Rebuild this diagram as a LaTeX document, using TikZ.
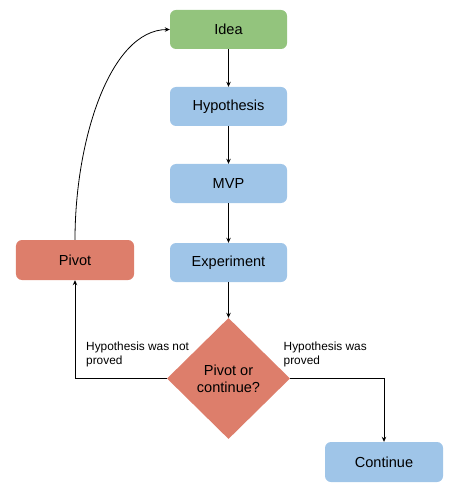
\documentclass[tikz,border=0pt]{standalone}
\usepackage{fontspec}
\setmainfont{Liberation Sans}
\usetikzlibrary{shapes.geometric,arrows.meta}
\definecolor{cgreen}{HTML}{93C47D}
\definecolor{cblue}{HTML}{9FC5E8}
\definecolor{cred}{HTML}{DD7E6B}
\begin{document}
\begin{tikzpicture}[x=1bp,y=-1bp,
  box/.style={rectangle,rounded corners=6bp,minimum width=117bp,minimum height=39bp,inner sep=0pt,font=\fontsize{14.6}{17}\selectfont},
  decision/.style={diamond,fill=cred,minimum width=123bp,minimum height=121bp,inner sep=0pt,align=center,font=\fontsize{14.6}{17}\selectfont},
  conn/.style={line width=0.8bp,-{Stealth[length=5bp,width=4.5bp]}},
  lbl/.style={inner sep=0pt,align=left,anchor=north west,font=\fontsize{11.9}{14}\selectfont}]
\useasboundingbox (0,0) rectangle (457,497);
\node[box,fill=cgreen] (idea) at (228.5,29.5) {Idea};
\node[box,fill=cblue] (hyp) at (228.5,106.5) {Hypothesis};
\node[box,fill=cblue] (mvp) at (228.5,183.5) {MVP};
\node[box,fill=cblue] (exp) at (228.5,262.5) {Experiment};
\node[box,fill=cred,minimum width=118bp,minimum height=40bp] (pivot) at (75,260) {Pivot};
\node[decision] (dec) at (228.5,378.5) {Pivot or\\continue?};
\node[box,fill=cblue,minimum width=118bp,minimum height=40bp] (cont) at (384,462) {Continue};
\draw[conn] (idea) -- (hyp);
\draw[conn] (hyp) -- (mvp);
\draw[conn] (mvp) -- (exp);
\draw[conn] (exp) -- (dec.north);
\draw[conn] (dec.west) -| (pivot.south);
\draw[conn] (dec.east) -| (cont.north);
\draw[conn] (pivot.north) .. controls (75,140) and (110,30) .. (idea.west);
\node[lbl] (l1) at (86,341.5) {Hypothesis was not\\proved};
\node[lbl] (l2) at (283.5,341.5) {Hypothesis was\\proved};
\end{tikzpicture}
\end{document}
